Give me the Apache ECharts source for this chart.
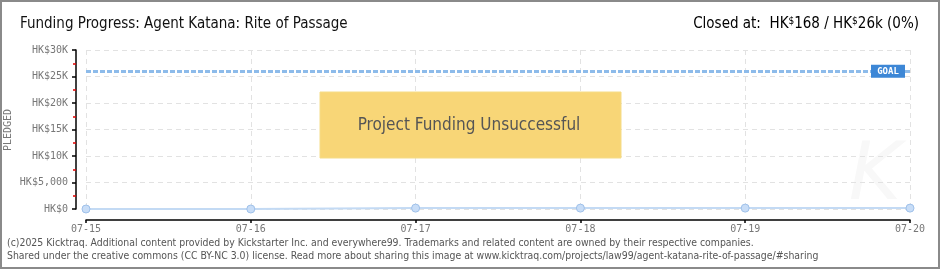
<!DOCTYPE html>
<html>
<head>
<meta charset="utf-8">
<script src="https://cdn.jsdelivr.net/npm/echarts@6/dist/echarts.min.js"></script>
<style>
html,body{margin:0;padding:0;background:#fff;}
#c{width:940px;height:270px;}
</style>
</head>
<body>
<div id="c"></div>
<script>
var dates = ['07-15', '07-16', '07-17', '07-18', '07-19', '07-20'];
var pledged = [0, 0, 168, 168, 168, 168];
var goal = 26000;
var yTickLabels = ['HK$0', 'HK$5,000', 'HK$10K', 'HK$15K', 'HK$20K', 'HK$25K', 'HK$30K'];
var yAxisTitle = 'PLEDGED';
var titleText = 'Funding Progress: Agent Katana: Rite of Passage';
var closedLabel = 'Closed at:  ';
var closedAmount = '168';
var goalAmount = '26k';
var percentText = '(0%)';
var statusText = 'Project Funding Unsuccessful';
var footer1 = '(c)2025 Kicktraq. Additional content provided by Kickstarter Inc. and everywhere99. Trademarks and related content are owned by their respective companies.';
var footer2 = 'Shared under the creative commons (CC BY-NC 3.0) license. Read more about sharing this image at www.kicktraq.com/projects/law99/agent-katana-rite-of-passage/#sharing';

var chart = echarts.init(document.getElementById('c'), null, {renderer: 'canvas'});
var axisFont = '"DejaVu Sans Mono", monospace';
var condFont = '"DejaVu Sans Condensed", "DejaVu Sans", sans-serif';
var closedRich = '{a|' + closedLabel + 'HK}{s|$}{a|' + closedAmount + ' / HK}{s|$}{a|' + goalAmount + ' ' + percentText + '}';
var option = {
  animation: false,
  backgroundColor: '#fff',
  grid: {left: 86, right: 30, top: 50, bottom: 61, containLabel: false, outerBoundsMode: 'none'},
  xAxis: {
    type: 'category',
    data: dates,
    boundaryGap: false,
    offset: 11,
    axisLine: {show: true, onZero: false, lineStyle: {color: '#000', width: 1.5}},
    axisTick: {show: true, alignWithLabel: true, length: 3, lineStyle: {color: '#000', width: 1.5}},
    axisLabel: {color: '#777', fontSize: 10, fontFamily: axisFont, margin: 4},
    splitLine: {show: true, lineStyle: {color: '#e2e2e2', type: [5, 4], width: 1}}
  },
  yAxis: {
    type: 'value',
    min: 0, max: 30000, interval: 5000,
    offset: 10,
    axisLine: {show: true, onZero: false, lineStyle: {color: '#000', width: 1.5}},
    axisTick: {show: true, length: 4, lineStyle: {color: '#000', width: 1.5}},
    minorTick: {show: true, splitNumber: 2, length: 3, lineStyle: {color: '#e00000', width: 1.5}},
    axisLabel: {
      color: '#777', fontSize: 10, fontFamily: axisFont, margin: 8,
      formatter: function (v) { return yTickLabels[Math.round(v / 5000)]; }
    },
    splitLine: {show: true, lineStyle: {color: '#e2e2e2', type: [5, 4], width: 1}}
  },
  series: [{
    type: 'line',
    data: pledged,
    symbol: 'circle',
    symbolSize: 8,
    lineStyle: {color: '#c3daf4', width: 2},
    itemStyle: {color: '#c8ddf7', borderColor: '#9fc1ea', borderWidth: 1},
    z: 5,
    markLine: {
      silent: true,
      symbol: 'none',
      label: {show: false},
      lineStyle: {color: '#8dbbea', width: 3, type: [5, 2]},
      data: [{yAxis: goal}]
    },
    markPoint: {
      silent: true,
      data: [{coord: [dates[dates.length - 1], goal]}],
      symbol: 'rect',
      symbolSize: [34, 13],
      symbolOffset: [-22, 0],
      itemStyle: {color: '#3d87d6'},
      label: {show: true, position: 'inside', formatter: 'GOAL', color: '#fff', fontSize: 9, fontFamily: axisFont, fontWeight: 'bold'}
    }
  }],
  graphic: [
    {type: 'rect', x: 0, y: 0, shape: {x: 1, y: 1, width: 938, height: 267}, style: {fill: 'none', stroke: '#8a8a8a', lineWidth: 2}, z: 100},
    {type: 'text', x: 20, y: 24, style: {text: titleText, fill: '#111', font: '15px ' + condFont, verticalAlign: 'middle'}},
    {type: 'text', x: 919, y: 24, style: {text: closedRich, align: 'right', verticalAlign: 'middle',
      rich: {
        a: {fontSize: 15, fontFamily: condFont, color: '#111'},
        s: {fontSize: 10, fontFamily: condFont, color: '#111', verticalAlign: 'top', padding: [0, 0, 5, 0]}
      }}},
    {type: 'text', x: 8, y: 130, rotation: Math.PI / 2, style: {text: yAxisTitle, fill: '#777', font: '10px ' + axisFont, align: 'center', verticalAlign: 'middle'}},
    {type: 'text', x: 875, y: 178, style: {text: 'K', fill: '#f8f8f8', font: 'italic 80px "DejaVu Sans", sans-serif', align: 'center', verticalAlign: 'middle'}, z: 0},
    {type: 'rect', x: 320, y: 92, shape: {width: 301, height: 66}, style: {fill: '#f8d677', stroke: '#f5dc88', lineWidth: 1}, z: 50},
    {type: 'text', x: 469, y: 126, style: {text: statusText, fill: '#555', font: '17px ' + condFont, align: 'center', verticalAlign: 'middle', textShadowColor: '#fff', textShadowOffsetX: 1, textShadowOffsetY: 1, textShadowBlur: 0}, z: 51},
    {type: 'text', x: 7, y: 243, style: {text: footer1, fill: '#555', font: '10.4px ' + condFont, verticalAlign: 'middle'}},
    {type: 'text', x: 7, y: 256, style: {text: footer2, fill: '#555', font: '10.4px ' + condFont, verticalAlign: 'middle'}}
  ]
};
chart.setOption(option);
</script>
</body>
</html>
